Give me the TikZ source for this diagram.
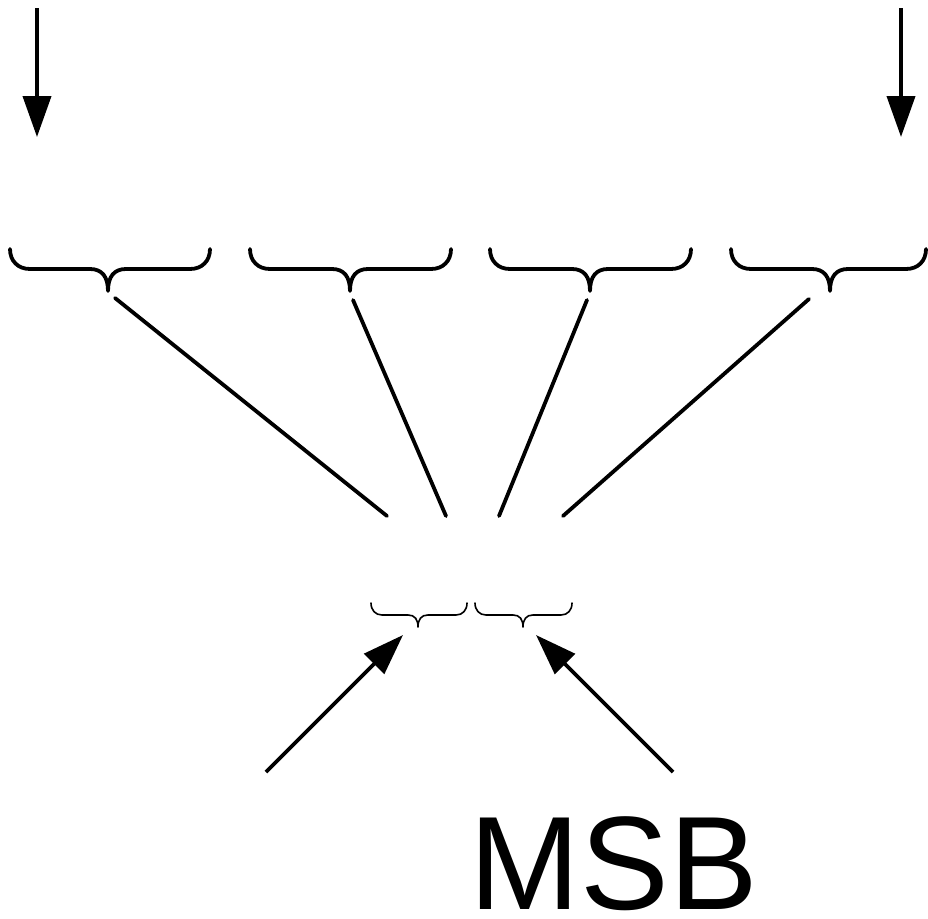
\documentclass[tikz,border=0pt]{standalone}
\usepackage{fontspec}
\setmainfont{Liberation Sans}
\usetikzlibrary{arrows.meta}
\newcommand\mybrace[7]{%
  % #1 x0, #2 x1, #3 tip x, #4 top y, #5 horizontal y, #6 tip y, #7 end radius
  \draw[bracestyle] (#1,#4) .. controls (#1,{#4+0.6*(#5-#4)}) and ({#1+0.4*#7},#5) .. ({#1+#7},#5)
    -- ({#3-0.9*#7},#5) .. controls ({#3-0.3*#7},#5) and (#3,{#5+0.35*(#6-#5)}) .. (#3,#6)
    .. controls (#3,{#5+0.35*(#6-#5)}) and ({#3+0.3*#7},#5) .. ({#3+0.9*#7},#5)
    -- ({#2-#7},#5) .. controls ({#2-0.4*#7},#5) and (#2,{#4+0.6*(#5-#4)}) .. (#2,#4);
  \coordinate (t#3) at (#3,#6);}
\begin{document}
\begin{tikzpicture}[x=1pt,y=-1pt,
  bracestyle/.style={line width=3.8pt,line cap=round,line join=round},
  conn/.style={line width=3.8pt,line cap=round},
  arr/.style={line width=4pt,-{Triangle[length=41pt,width=28pt]}}]
\useasboundingbox (0,0) rectangle (928,918);
% top arrows
\coordinate (a1s) at (37,8); \coordinate (a1e) at (37,137);
\coordinate (a2s) at (901,8); \coordinate (a2e) at (901,137);
\draw[arr] (a1s) -- (a1e);
\draw[arr] (a2s) -- (a2e);
% big braces
\mybrace{10}{210}{108}{249}{269}{291}{20}
\mybrace{250}{451}{350}{249}{269}{291}{20}
\mybrace{490}{691}{590}{249}{269}{291}{20}
\mybrace{731}{926}{830}{249}{269}{291}{20}
% connectors
\coordinate (l1a) at (115,298); \coordinate (l1b) at (387,516);
\coordinate (l2a) at (353,300); \coordinate (l2b) at (446,516);
\coordinate (l3a) at (587,300); \coordinate (l3b) at (499,516);
\coordinate (l4a) at (809,299); \coordinate (l4b) at (563,516);
\draw[conn] (l1a) -- (l1b);
\draw[conn] (l2a) -- (l2b);
\draw[conn] (l3a) -- (l3b);
\draw[conn] (l4a) -- (l4b);
% small braces
\begin{scope}[bracestyle/.style={line width=1.6pt,line cap=round,line join=round}]
\mybrace{371}{467}{418}{603}{615}{627}{11}
\mybrace{475}{572}{523}{603}{615}{627}{11}
\end{scope}
% bottom arrows
\coordinate (b1s) at (266,772); \coordinate (b1e) at (403,635);
\coordinate (b2s) at (673,772); \coordinate (b2e) at (536,635);
\draw[arr,line width=3.8pt] (b1s) -- (b1e);
\draw[arr,line width=3.8pt] (b2s) -- (b2e);
% label
\node[font=\fontsize{133}{133}\selectfont, inner sep=0pt] (msb) at (614,864) {MSB};
\end{tikzpicture}
\end{document}
